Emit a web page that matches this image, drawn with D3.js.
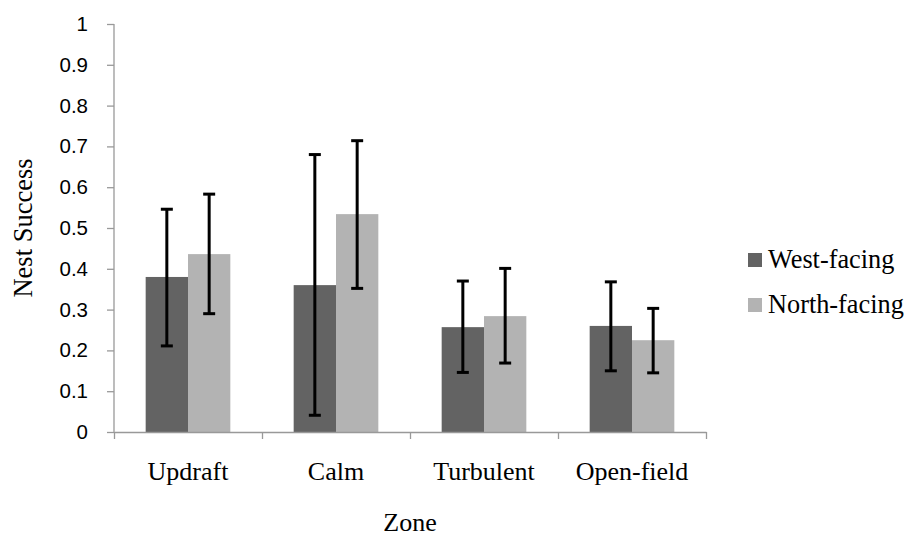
<!DOCTYPE html>
<html><head><meta charset="utf-8">
<script src="https://cdn.jsdelivr.net/npm/d3@7"></script>
<style>body{margin:0;background:#fff}svg{display:block}</style>
</head><body>
<svg id="c" width="909" height="536"></svg>
<script>
const categories = ["Updraft", "Calm", "Turbulent", "Open-field"];
const seriesNames = ["West-facing", "North-facing"];
const westValues = [0.380, 0.360, 0.257, 0.260];
const westLow = [0.211, 0.041, 0.146, 0.150];
const westHigh = [0.546, 0.680, 0.370, 0.368];
const northValues = [0.436, 0.534, 0.284, 0.225];
const northLow = [0.290, 0.352, 0.169, 0.145];
const northHigh = [0.583, 0.714, 0.401, 0.303];
const yTicks = [0, 0.1, 0.2, 0.3, 0.4, 0.5, 0.6, 0.7, 0.8, 0.9, 1];
const yTickLabels = ["0", "0.1", "0.2", "0.3", "0.4", "0.5", "0.6", "0.7", "0.8", "0.9", "1"];
const colors = ["#636363", "#b3b3b3"];

const svg = d3.select("#c");
const L = 114, R = 706, T = 24, B = 432;
const y = d3.scaleLinear().domain([0, 1]).range([B, T]);
const x = d3.scaleBand().domain(categories).range([L, R]).paddingInner(0.428).paddingOuter(0.214);
const xs = d3.scaleBand().domain(seriesNames).range([0, x.bandwidth()]);
const xt = d3.scaleLinear().domain([0, categories.length]).range([L, R]);

const data = categories.map((c, i) => ({c, s: [
  {name: seriesNames[0], v: westValues[i], lo: westLow[i], hi: westHigh[i]},
  {name: seriesNames[1], v: northValues[i], lo: northLow[i], hi: northHigh[i]}]}));

const g = svg.append("g");
const groups = g.selectAll(".grp").data(data).enter().append("g").attr("transform", d => `translate(${x(d.c)},0)`);
groups.selectAll("rect").data(d => d.s).enter().append("rect")
  .attr("x", d => xs(d.name)).attr("width", xs.bandwidth())
  .attr("y", d => y(d.v)).attr("height", d => y(0) - y(d.v))
  .attr("fill", (d, i) => colors[i]);

// axes
const ya = svg.append("g").attr("transform", `translate(${L},0)`)
  .call(d3.axisLeft(y).tickValues(yTicks).tickFormat((d, i) => yTickLabels[i]).tickSize(7).tickPadding(19));
const xa = svg.append("g").attr("transform", `translate(0,${B})`)
  .call(d3.axisBottom(xt).tickValues(d3.range(categories.length + 1)).tickFormat("").tickSize(7).tickSizeOuter(0));
[ya, xa].forEach(a => { a.selectAll("path,line").attr("stroke", "#999").attr("stroke-width", 1.3); });
ya.select(".domain").attr("d", `M0,${T}V${B}`);
ya.selectAll("text").attr("font-family", "Liberation Sans, Arial, sans-serif").attr("font-size", 20.5).attr("fill", "#000");

// error bars
const eb = groups.selectAll(".eb").data(d => d.s).enter().append("g")
  .attr("transform", d => `translate(${xs(d.name) + xs.bandwidth() / 2},0)`);
eb.append("line").attr("x1", 0).attr("x2", 0).attr("y1", d => y(d.lo)).attr("y2", d => y(d.hi));
eb.append("line").attr("x1", -6).attr("x2", 6).attr("y1", d => y(d.lo)).attr("y2", d => y(d.lo));
eb.append("line").attr("x1", -6).attr("x2", 6).attr("y1", d => y(d.hi)).attr("y2", d => y(d.hi));
eb.selectAll("line").attr("stroke", "#000").attr("stroke-width", 3);

const serif = "Liberation Serif, Times New Roman, serif";
svg.selectAll(".cl").data(categories).enter().append("text")
  .attr("x", d => x(d) + x.bandwidth() / 2).attr("y", 480)
  .attr("text-anchor", "middle").attr("font-family", serif).attr("font-size", 26).text(d => d);
svg.append("text").attr("x", (L + R) / 2).attr("y", 531).attr("text-anchor", "middle")
  .attr("font-family", serif).attr("font-size", 26).text("Zone");
svg.append("text").attr("transform", `translate(32,228) rotate(-90)`)
  .attr("text-anchor", "middle").attr("font-family", serif).attr("font-size", 26.5).text("Nest Success");

// legend
const lg = svg.append("g").selectAll("g").data(seriesNames).enter().append("g")
  .attr("transform", (d, i) => `translate(748,${253 + i * 45})`);
lg.append("rect").attr("width", 14).attr("height", 14).attr("fill", (d, i) => colors[i]);
lg.append("text").attr("x", 20).attr("y", 15).attr("font-family", serif).attr("font-size", 26.3).text(d => d);
</script>
</body></html>
